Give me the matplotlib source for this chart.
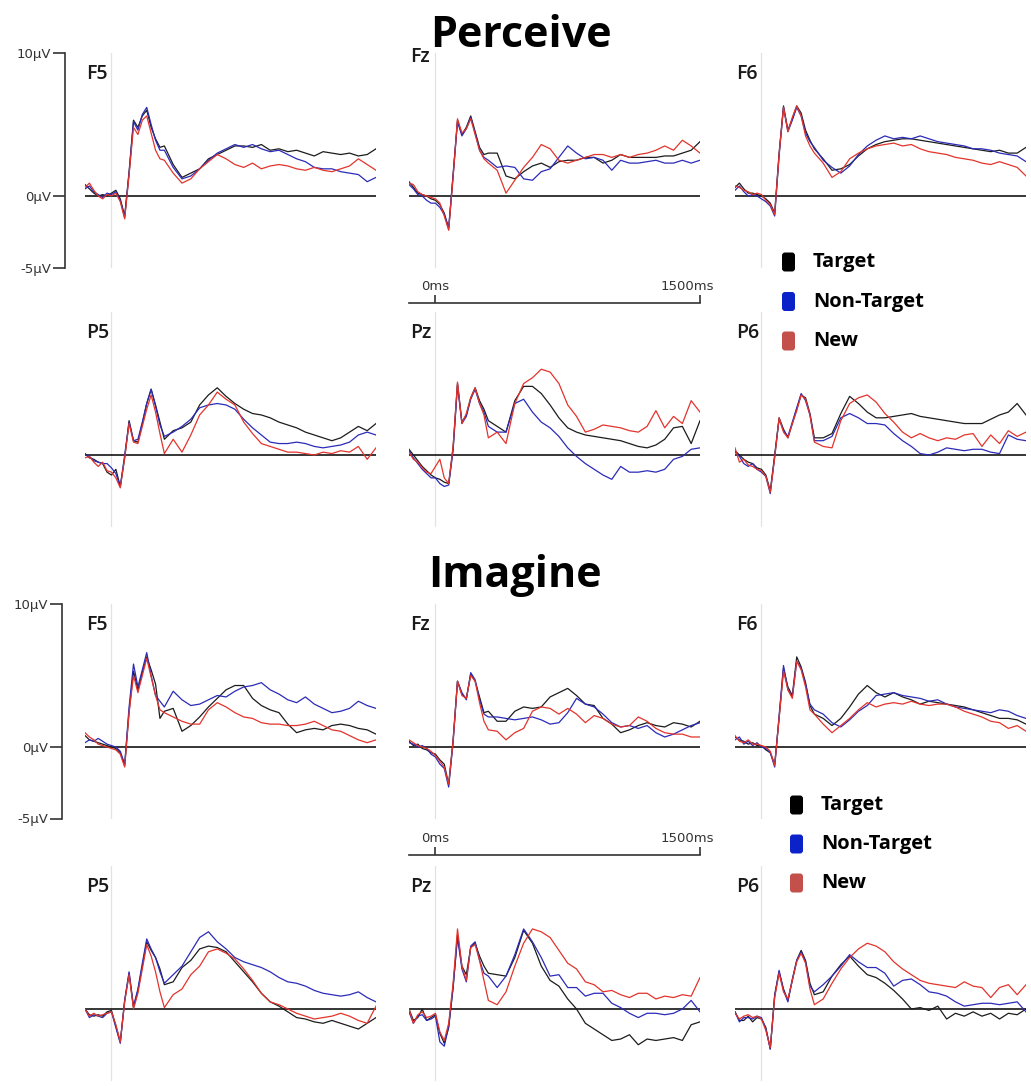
import numpy as np
import matplotlib.pyplot as plt
from matplotlib.patches import FancyBboxPatch
from matplotlib.transforms import ScaledTranslation

# time axis of every waveform (ms); finer steps over the early components
times = [-150, -125, -100, -75, -50, -25, 0, 25, 50, 75, 100, 125, 150, 175, 200, 225, 250, 275, 300,
         350, 400, 450, 500, 550, 600, 650, 700, 750, 800, 850, 900, 950, 1000, 1050, 1100, 1150,
         1200, 1250, 1300, 1350, 1400, 1450, 1500]

conditions = ["Target", "Non-Target", "New"]
trace_colors = ["#1c1c1c", "#2b2bb8", "#e2342c"]
legend_colors = ["#000000", "#0a22c8", "#c4504c"]
sections = ["Perceive", "Imagine"]
channels = [["F5", "Fz", "F6"], ["P5", "Pz", "P6"]]

# ---- Perceive (uV) ----
per_f5_target = [0.8, 0.5, 0.2, 0.0, 0.1, 0.0, 0.2, 0.4, -0.2, -1.4, 1.7, 5.3, 4.8, 5.6, 6.0, 4.8, 4.0, 3.4, 3.5,
                 2.2, 1.3, 1.6, 1.9, 2.6, 2.9, 3.2, 3.5, 3.5, 3.4, 3.6, 3.2, 3.3, 3.1, 3.2, 3.0, 2.8, 3.1, 3.0, 2.9, 3.0, 2.8, 2.9, 3.3]
per_f5_nontarget = [0.5, 0.7, 0.3, 0.1, -0.1, 0.2, 0.1, 0.3, -0.3, -1.5, 1.6, 5.2, 4.6, 5.7, 6.2, 5.0, 3.9, 3.2, 3.2,
                    2.0, 1.2, 1.4, 1.9, 2.5, 3.0, 3.3, 3.6, 3.4, 3.6, 3.3, 3.1, 3.2, 2.9, 2.6, 2.4, 2.0, 1.9, 1.9, 1.7, 1.6, 1.5, 1.0, 1.3]
per_f5_new = [0.6, 0.9, 0.4, 0.0, -0.2, 0.1, 0.0, 0.2, -0.4, -1.6, 1.5, 4.8, 4.3, 5.3, 5.6, 4.4, 3.2, 2.6, 2.5,
              1.6, 0.9, 1.2, 1.9, 2.4, 2.9, 2.6, 2.2, 2.0, 2.3, 1.9, 2.1, 2.2, 2.1, 1.9, 1.8, 2.0, 1.8, 1.7, 1.9, 2.1, 2.6, 2.2, 1.8]

per_fz_target = [1.0, 0.6, 0.2, 0.1, 0.0, -0.2, -0.3, -0.6, -1.2, -2.3, 1.5, 5.3, 4.3, 4.8, 5.6, 4.5, 3.4, 2.9, 3.0,
                 3.0, 1.4, 1.2, 1.7, 2.1, 2.3, 2.0, 2.4, 2.5, 2.5, 2.7, 2.7, 2.3, 2.5, 2.9, 2.7, 2.7, 2.7, 2.7, 2.8, 2.8, 3.0, 3.2, 3.8]
per_fz_nontarget = [0.8, 0.5, 0.1, 0.0, -0.3, -0.5, -0.5, -0.8, -1.3, -2.2, 1.4, 5.2, 4.2, 4.7, 5.5, 4.4, 3.2, 2.7, 2.5,
                    2.0, 2.1, 2.0, 1.2, 1.1, 1.7, 1.9, 2.7, 3.5, 3.0, 2.6, 2.7, 2.5, 1.8, 2.5, 2.3, 2.3, 2.4, 2.5, 2.3, 2.3, 2.5, 2.3, 2.5]
per_fz_new = [0.9, 0.8, 0.3, 0.1, 0.0, -0.1, -0.2, -0.5, -1.4, -2.4, 1.3, 5.4, 4.4, 4.7, 5.4, 4.3, 3.2, 2.6, 2.3,
              1.8, 0.2, 1.1, 2.0, 2.7, 3.6, 3.3, 2.5, 2.3, 2.5, 2.7, 2.9, 2.9, 2.7, 2.9, 2.7, 2.9, 3.0, 3.2, 3.5, 3.2, 3.9, 3.5, 3.0]

per_f6_target = [0.6, 0.9, 0.5, 0.2, 0.2, 0.1, 0.0, -0.2, -0.5, -1.2, 3.0, 6.3, 4.6, 5.4, 6.3, 5.8, 4.6, 3.9, 3.3,
                 2.6, 1.8, 1.9, 2.2, 2.8, 3.3, 3.6, 3.8, 3.9, 4.0, 4.0, 3.9, 3.8, 3.7, 3.6, 3.5, 3.4, 3.3, 3.2, 3.1, 3.2, 3.0, 3.0, 3.4]
per_f6_nontarget = [0.4, 0.7, 0.3, 0.0, 0.1, 0.0, -0.2, -0.4, -0.7, -1.4, 2.8, 6.2, 4.5, 5.3, 6.2, 5.6, 4.4, 3.8, 3.4,
                    2.5, 2.0, 1.6, 2.1, 2.9, 3.5, 3.9, 4.2, 4.0, 4.1, 4.0, 4.2, 4.0, 3.8, 3.7, 3.6, 3.5, 3.3, 3.3, 3.2, 3.0, 2.9, 2.8, 2.4]
per_f6_new = [0.7, 0.6, 0.4, 0.3, 0.1, 0.2, 0.1, -0.3, -0.6, -1.3, 2.9, 6.2, 4.5, 5.5, 6.3, 5.6, 4.2, 3.5, 3.0,
              2.3, 1.3, 1.7, 2.6, 3.0, 3.3, 3.5, 3.6, 3.7, 3.5, 3.6, 3.3, 3.1, 3.0, 2.9, 2.7, 2.6, 2.5, 2.3, 2.2, 2.4, 2.2, 2.0, 1.4]

per_p5_target = [0.1, -0.2, -0.3, -0.5, -0.6, -1.2, -1.4, -1.0, -2.2, -0.2, 2.4, 1.0, 0.9, 2.2, 3.6, 4.6, 3.5, 2.3, 1.1,
                 1.7, 1.9, 2.3, 3.5, 4.2, 4.7, 4.1, 3.6, 3.2, 2.9, 2.8, 2.6, 2.3, 2.1, 1.9, 1.6, 1.4, 1.2, 1.0, 1.2, 1.6, 2.0, 1.7, 2.2]
per_p5_nontarget = [0.0, -0.1, -0.4, -0.5, -0.6, -0.6, -0.9, -1.3, -2.2, 0.0, 2.3, 1.0, 1.1, 2.3, 3.6, 4.6, 3.4, 2.1, 1.3,
                    1.6, 2.0, 2.5, 3.3, 3.5, 3.6, 3.5, 3.2, 2.5, 1.9, 1.4, 0.9, 0.8, 0.8, 0.9, 0.8, 0.6, 0.5, 0.6, 0.7, 0.9, 1.4, 1.6, 1.4]
per_p5_new = [-0.2, -0.1, -0.5, -0.8, -0.5, -1.1, -1.2, -1.6, -2.3, -0.2, 2.2, 0.9, 0.8, 2.0, 3.2, 4.2, 3.0, 1.5, 0.1,
              1.1, 0.2, 1.4, 2.8, 3.5, 4.4, 3.9, 3.5, 2.3, 1.5, 0.8, 0.6, 0.4, 0.2, 0.2, 0.1, 0.0, 0.2, 0.1, 0.3, 0.2, 0.6, -0.3, 0.5]

per_pz_target = [0.4, 0.0, -0.4, -0.8, -1.1, -1.4, -1.6, -1.7, -1.9, -2.0, 0.5, 5.0, 2.3, 2.8, 4.0, 4.7, 3.8, 3.2, 2.4,
                 2.0, 1.6, 3.8, 4.8, 4.8, 4.3, 3.5, 2.6, 1.9, 1.6, 1.4, 1.3, 1.2, 1.1, 1.0, 0.8, 0.6, 0.5, 0.7, 1.1, 1.9, 2.0, 0.8, 2.4]
per_pz_nontarget = [0.3, -0.2, -0.6, -1.0, -1.3, -1.6, -1.6, -2.0, -2.2, -2.1, 0.3, 4.9, 2.2, 2.7, 3.9, 4.6, 3.6, 3.0, 2.0,
                    1.6, 1.6, 3.6, 3.9, 3.0, 2.3, 1.9, 1.3, 0.5, -0.1, -0.6, -1.0, -1.4, -1.7, -0.8, -1.2, -1.2, -1.1, -1.2, -1.0, -0.3, -0.1, 0.4, 0.5]
per_pz_new = [0.2, -0.3, -0.5, -0.9, -1.2, -1.3, -0.8, -0.3, -1.6, -2.0, 0.6, 5.1, 2.2, 2.9, 4.0, 4.7, 3.6, 2.8, 1.2,
              1.6, 0.8, 3.6, 5.0, 5.4, 6.0, 5.8, 5.0, 3.5, 2.7, 1.6, 1.8, 2.1, 2.0, 1.9, 1.7, 1.6, 2.0, 3.1, 1.9, 2.7, 2.2, 3.8, 3.0]

per_p6_target = [0.3, 0.0, -0.3, -0.5, -0.6, -0.9, -1.0, -1.4, -2.5, 0.0, 2.6, 1.8, 1.2, 2.2, 3.2, 4.2, 4.0, 2.9, 1.2,
                 1.2, 1.5, 2.9, 4.1, 3.6, 3.0, 2.6, 2.6, 2.7, 2.8, 2.9, 2.7, 2.6, 2.5, 2.4, 2.3, 2.2, 2.2, 2.2, 2.5, 2.8, 3.0, 3.6, 2.8]
per_p6_nontarget = [0.2, -0.1, -0.6, -0.8, -0.6, -1.0, -1.2, -1.5, -2.7, -0.1, 2.5, 1.7, 1.3, 2.3, 3.3, 4.3, 3.8, 2.8, 1.0,
                    1.0, 1.3, 2.6, 2.9, 2.6, 2.2, 2.2, 2.1, 1.5, 1.0, 0.6, 0.1, 0.0, 0.2, 0.5, 0.4, 0.3, 0.4, 0.4, 0.2, 0.1, 1.4, 1.1, 1.0]
per_p6_new = [0.5, -0.5, -0.3, -0.7, -0.8, -1.0, -1.1, -1.5, -2.6, -0.2, 2.6, 1.6, 1.2, 2.2, 3.1, 4.2, 3.9, 2.8, 0.9,
              0.6, 0.5, 2.4, 3.6, 4.0, 4.2, 3.7, 2.9, 2.3, 1.6, 1.2, 1.5, 1.2, 1.0, 1.2, 1.1, 1.4, 1.5, 0.6, 1.4, 0.8, 1.7, 1.3, 1.6]

# ---- Imagine (uV) ----
ima_f5_target = [0.8, 0.5, 0.4, 0.3, 0.2, 0.1, 0.0, -0.1, -0.4, -1.3, 2.5, 5.3, 4.0, 5.2, 6.3, 5.4, 4.4, 2.0, 2.5,
                 2.7, 1.1, 1.5, 2.1, 2.8, 3.4, 4.0, 4.3, 4.3, 3.4, 2.9, 2.6, 2.4, 1.6, 1.0, 1.2, 1.3, 1.2, 1.5, 1.6, 1.5, 1.3, 1.2, 0.9]
ima_f5_nontarget = [0.3, 0.5, 0.4, 0.6, 0.4, 0.2, 0.1, 0.0, -0.3, -1.2, 2.8, 5.8, 4.2, 5.4, 6.6, 5.0, 3.6, 3.2, 2.8,
                    3.9, 3.3, 2.9, 3.0, 3.3, 3.6, 3.5, 3.9, 4.2, 4.3, 4.5, 4.0, 3.7, 3.3, 3.1, 3.5, 3.0, 2.7, 2.4, 2.5, 2.7, 3.2, 2.9, 2.7]
ima_f5_new = [1.0, 0.7, 0.5, 0.2, 0.1, 0.0, -0.1, -0.2, -0.5, -1.4, 2.4, 5.0, 3.8, 5.0, 6.2, 4.9, 3.6, 2.6, 2.4,
              2.1, 1.8, 1.6, 1.6, 2.6, 3.1, 2.8, 2.4, 2.1, 2.0, 1.7, 1.6, 1.6, 1.5, 1.5, 1.6, 1.8, 1.5, 1.2, 1.1, 0.8, 0.5, 0.3, 0.5]

ima_fz_target = [0.4, 0.1, 0.2, -0.1, -0.2, -0.4, -0.5, -0.9, -1.2, -2.6, 0.5, 4.6, 3.7, 3.4, 5.1, 4.6, 3.5, 2.4, 2.5,
                 1.8, 1.8, 2.5, 2.8, 2.7, 2.8, 3.5, 3.8, 4.1, 3.6, 3.0, 2.9, 2.0, 1.6, 1.0, 1.2, 1.5, 1.7, 1.5, 1.4, 1.7, 1.6, 1.4, 1.8]
ima_fz_nontarget = [0.3, 0.2, 0.0, 0.1, -0.1, -0.5, -0.7, -1.2, -1.5, -2.8, 0.3, 4.6, 3.8, 3.3, 5.2, 4.7, 3.3, 2.3, 2.1,
                    2.1, 2.0, 1.9, 2.0, 2.1, 1.9, 1.6, 1.7, 2.4, 3.4, 3.0, 2.8, 2.3, 1.7, 1.4, 1.5, 1.3, 1.5, 1.0, 0.7, 0.9, 1.2, 1.5, 1.7]
ima_fz_new = [0.5, 0.3, 0.1, 0.0, -0.1, -0.3, -0.6, -1.0, -1.4, -2.6, 0.4, 4.6, 3.6, 3.4, 5.0, 4.6, 3.1, 1.8, 1.2,
              1.1, 0.5, 1.0, 1.3, 2.5, 2.8, 2.7, 2.3, 2.7, 2.3, 1.7, 2.2, 2.0, 1.6, 1.4, 1.5, 2.1, 1.8, 1.3, 1.0, 0.9, 0.9, 0.7, 0.7]

ima_f6_target = [0.7, 0.5, 0.4, 0.2, 0.3, 0.1, 0.1, -0.2, -0.4, -1.2, 2.0, 5.5, 4.2, 3.6, 6.3, 5.6, 4.5, 2.9, 2.3,
                 2.0, 1.5, 2.0, 2.8, 3.7, 4.3, 3.8, 3.5, 3.8, 3.5, 3.3, 3.0, 3.2, 3.1, 3.0, 2.9, 2.8, 2.6, 2.4, 2.2, 2.0, 2.0, 1.9, 1.6]
ima_f6_nontarget = [0.5, 0.7, 0.2, 0.4, 0.1, 0.3, 0.0, -0.1, -0.4, -1.4, 2.2, 5.7, 4.0, 3.5, 6.0, 5.5, 4.4, 3.0, 2.6,
                    2.3, 1.7, 1.4, 1.9, 2.5, 2.9, 3.6, 3.7, 3.8, 3.6, 3.5, 3.4, 3.2, 3.3, 3.0, 2.8, 2.7, 2.6, 2.5, 2.4, 2.6, 2.5, 2.2, 2.0]
ima_f6_new = [0.8, 0.4, 0.3, 0.5, 0.2, 0.2, 0.1, 0.0, -0.3, -1.3, 2.0, 5.3, 4.0, 3.4, 6.0, 5.4, 4.2, 2.6, 2.3,
              1.6, 1.0, 1.5, 2.0, 2.6, 3.1, 2.8, 3.0, 3.1, 3.0, 3.2, 3.0, 2.9, 3.0, 3.0, 2.8, 2.5, 2.3, 2.1, 1.8, 1.7, 1.3, 1.5, 1.1]

ima_p5_target = [0.0, -0.4, -0.5, -0.4, -0.5, -0.2, -0.1, -1.2, -2.3, 0.6, 2.5, 0.1, 1.3, 3.0, 4.7, 4.1, 3.6, 2.8, 1.7,
                 1.9, 2.9, 3.4, 4.2, 4.4, 4.3, 4.0, 3.3, 2.6, 1.9, 1.1, 0.5, 0.2, -0.2, -0.6, -0.7, -0.9, -1.0, -0.8, -1.0, -1.2, -1.4, -1.0, -0.6]
ima_p5_nontarget = [0.0, -0.6, -0.4, -0.5, -0.6, -0.3, -0.2, -1.3, -2.4, 0.6, 2.6, 0.2, 1.4, 3.2, 4.9, 4.2, 3.6, 2.6, 1.8,
                    2.4, 3.0, 4.0, 5.0, 5.4, 4.7, 4.2, 3.6, 3.3, 3.1, 2.9, 2.6, 2.2, 1.9, 1.8, 1.6, 1.3, 1.1, 1.0, 0.9, 1.0, 1.2, 0.8, 0.5]
ima_p5_new = [0.0, -0.5, -0.3, -0.5, -0.4, -0.3, -0.2, -1.1, -2.3, 0.5, 2.4, 0.0, 1.1, 2.8, 4.5, 3.7, 2.6, 1.2, 0.1,
              1.0, 1.4, 2.4, 3.0, 4.0, 4.2, 3.9, 3.5, 2.8, 2.0, 1.1, 0.5, 0.3, 0.0, -0.3, -0.5, -0.7, -0.6, -0.5, -0.3, -0.5, -0.8, -1.0, 0.2]

ima_pz_target = [0.0, -0.8, -0.6, 0.0, -0.8, -0.6, -0.4, -1.7, -2.4, -1.3, 1.5, 5.2, 3.0, 2.4, 4.3, 4.6, 3.7, 3.0, 2.5,
                 2.4, 2.3, 3.6, 5.5, 4.6, 3.0, 2.0, 1.6, 0.7, 0.0, -1.0, -1.4, -1.8, -2.2, -2.1, -1.8, -2.5, -2.1, -2.2, -2.1, -2.0, -2.2, -1.1, -0.9]
ima_pz_nontarget = [-0.2, -1.0, -0.5, -0.4, -0.8, -0.7, -0.5, -2.3, -2.6, -1.2, 1.5, 5.0, 2.8, 1.9, 4.4, 4.7, 3.4, 2.5, 2.3,
                    1.5, 2.3, 3.8, 5.6, 4.7, 3.6, 2.3, 2.4, 1.5, 1.5, 0.9, 1.1, 1.1, 0.4, 0.1, -0.3, -0.6, -0.3, -0.3, -0.4, -0.3, 0.0, 0.6, -0.2]
ima_pz_new = [0.0, -1.0, -0.4, -0.2, -0.6, -0.5, -0.3, -1.6, -2.2, -1.0, 1.8, 5.6, 3.0, 2.0, 4.3, 4.5, 3.4, 2.0, 0.6,
              0.3, 1.2, 3.0, 4.6, 5.6, 5.4, 5.0, 4.1, 3.2, 2.8, 1.9, 1.7, 1.2, 1.3, 1.0, 0.8, 1.1, 1.1, 0.7, 0.9, 0.8, 1.0, 0.9, 2.2]

ima_p6_target = [-0.2, -0.8, -0.8, -0.5, -0.9, -0.6, -0.7, -1.3, -2.8, 1.0, 2.6, 1.4, 0.6, 2.0, 3.4, 4.1, 3.4, 1.8, 1.0,
                 1.2, 2.3, 3.1, 3.7, 3.0, 2.4, 2.2, 1.8, 1.3, 0.7, 0.0, 0.1, -0.1, 0.2, -0.7, -0.3, -0.5, -0.2, -0.5, -0.3, -0.7, -0.3, -0.4, 0.0]
ima_p6_nontarget = [-0.2, -0.9, -0.6, -0.6, -0.7, -0.5, -0.6, -1.4, -2.8, 0.9, 2.7, 1.3, 0.5, 2.1, 3.4, 4.0, 3.3, 1.6, 1.2,
                    1.7, 2.3, 3.0, 3.8, 3.3, 2.9, 2.9, 2.5, 1.6, 2.0, 2.1, 1.7, 1.2, 1.1, 0.9, 0.5, 0.2, 0.3, 0.4, 0.4, 0.3, 0.4, 0.5, -0.2]
ima_p6_new = [-0.3, -0.7, -0.5, -0.4, -0.6, -0.5, -0.7, -1.5, -2.7, 0.8, 2.5, 1.2, 0.7, 2.0, 3.3, 3.9, 3.2, 1.4, 0.3,
              0.7, 1.8, 2.8, 3.6, 4.2, 4.6, 4.4, 4.0, 3.3, 2.8, 2.4, 2.0, 1.8, 1.7, 1.6, 1.5, 1.9, 1.6, 1.5, 0.8, 1.5, 1.7, 1.0, 1.7]

waves = {
    ("Perceive", "F5"): [per_f5_target, per_f5_nontarget, per_f5_new],
    ("Perceive", "Fz"): [per_fz_target, per_fz_nontarget, per_fz_new],
    ("Perceive", "F6"): [per_f6_target, per_f6_nontarget, per_f6_new],
    ("Perceive", "P5"): [per_p5_target, per_p5_nontarget, per_p5_new],
    ("Perceive", "Pz"): [per_pz_target, per_pz_nontarget, per_pz_new],
    ("Perceive", "P6"): [per_p6_target, per_p6_nontarget, per_p6_new],
    ("Imagine", "F5"): [ima_f5_target, ima_f5_nontarget, ima_f5_new],
    ("Imagine", "Fz"): [ima_fz_target, ima_fz_nontarget, ima_fz_new],
    ("Imagine", "F6"): [ima_f6_target, ima_f6_nontarget, ima_f6_new],
    ("Imagine", "P5"): [ima_p5_target, ima_p5_nontarget, ima_p5_new],
    ("Imagine", "Pz"): [ima_pz_target, ima_pz_nontarget, ima_pz_new],
    ("Imagine", "P6"): [ima_p6_target, ima_p6_nontarget, ima_p6_new],
}

W, H = 1031, 1086
PX = 14.3  # pixels per microvolt
col_left = [85, 409, 735]
col_w = 291
row_base = {"Perceive": [196, 455], "Imagine": [747, 1009]}
title_pos = {"Perceive": (521, 47), "Imagine": (515, 587)}
scale_x = {"Perceive": 65, "Imagine": 62}
timebar_y = {"Perceive": 303, "Imagine": 855}
legend_pos = {"Perceive": (782, 262, 39.5), "Imagine": (790, 805, 39.0)}
FONT = "Open Sans"

fig = plt.figure(figsize=(W / 100, H / 100), dpi=100)


def box(x0, y_top, w, h):
    return [x0 / W, 1 - (y_top + h) / H, w / W, h / H]


for sec in sections:
    for r, row in enumerate(channels):
        base = row_base[sec][r]
        for c, ch in enumerate(row):
            ax = fig.add_axes(box(col_left[c], base - 10 * PX, col_w, 15 * PX))
            ax.set_xlim(-150, 1500)
            ax.set_ylim(-5, 10)
            ax.axis("off")
            ax.axvline(0, color="#e2e2e2", lw=0.9, zorder=0)
            ax.axhline(0, color="black", lw=1.1, zorder=1)
            for vals, col in zip(waves[(sec, ch)], trace_colors):
                ax.plot(times, vals, color=col, lw=0.9, zorder=2)
            ly = 9.7 if (sec == "Perceive" and ch == "Fz") else 8.5
            ax.text(-146, ly, ch, fontsize=14, fontweight="semibold", family=FONT,
                    color="#1a1a1a", va="center", ha="left")

    # amplitude scale bar
    base = row_base[sec][0]
    sb = fig.add_axes(box(scale_x[sec], base - 10 * PX, 1, 15 * PX))
    sb.set_ylim(-5, 10)
    sb.patch.set_visible(False)
    for s in ["top", "right", "bottom"]:
        sb.spines[s].set_visible(False)
    sb.spines["left"].set_color("#333333")
    sb.spines["left"].set_linewidth(1.2)
    sb.set_xticks([])
    sb.set_yticks([-5, 0, 10], ["-5µV", "0µV", "10µV"])
    sb.tick_params(axis="y", length=9, width=1.2, color="#333333", pad=1,
                   labelsize=9.5, labelcolor="#333333")

    # time scale bar
    tb = fig.add_axes(box(col_left[1], timebar_y[sec], col_w, 2))
    tb.set_xlim(-150, 1500)
    tb.patch.set_visible(False)
    for s in ["left", "right", "bottom"]:
        tb.spines[s].set_visible(False)
    tb.spines["top"].set_color("#333333")
    tb.spines["top"].set_linewidth(1.2)
    tb.set_yticks([])
    tb.xaxis.set_ticks_position("top")
    tb.set_xticks([0, 1500], ["0ms", "1500ms"])
    tb.tick_params(axis="x", length=6, width=1.2, color="#333333", pad=1,
                   labelsize=9.5, labelcolor="#333333")
    end_label = tb.get_xticklabels()[1]
    end_label.set_transform(end_label.get_transform() + ScaledTranslation(-0.13, 0, fig.dpi_scale_trans))

# overlay in pixel units for titles and legends
ov = fig.add_axes([0, 0, 1, 1])
ov.set_xlim(0, W)
ov.set_ylim(H, 0)
ov.axis("off")

for sec in sections:
    tx, ty = title_pos[sec]
    ov.text(tx, ty, sec, fontsize=31, fontweight="bold", family=FONT,
            ha="center", va="baseline", color="black")
    lx, ly0, step = legend_pos[sec]
    for i, (name, col) in enumerate(zip(conditions, legend_colors)):
        cy = ly0 + i * step
        ov.add_patch(FancyBboxPatch((lx, cy - 9.5), 13, 19,
                                    boxstyle="round,pad=0,rounding_size=3",
                                    facecolor=col, edgecolor="none"))
        ov.text(lx + 31, cy, name, fontsize=14.5, fontweight="bold", family=FONT,
                va="center", ha="left", color="black")

fig.savefig("out.png", dpi=100)
